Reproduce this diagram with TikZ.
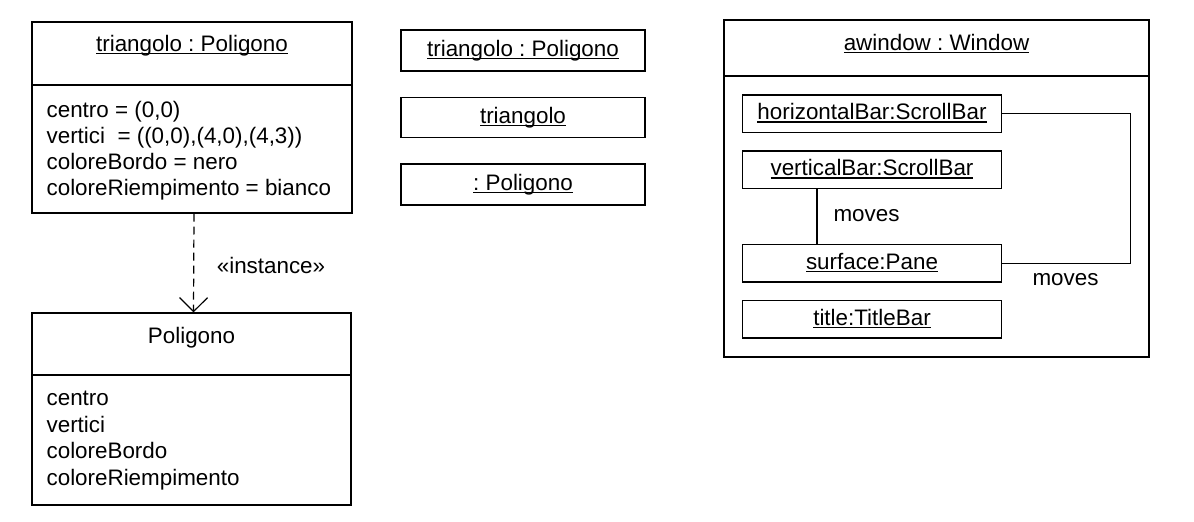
\documentclass[tikz,border=0pt]{standalone}
\usepackage{fontspec}
\setmainfont{Liberation Sans}
\usetikzlibrary{arrows.meta}
\frenchspacing
\newcommand\undl[1]{\setbox0=\hbox{#1}\rlap{\rule[-2.8pt]{\wd0}{1.1pt}}\box0}
\begin{document}
\frenchspacing
\begin{tikzpicture}[x=1pt,y=-1pt,line width=1.2pt,
  font=\fontsize{22.4}{27}\selectfont\frenchspacing,
  frame/.style={draw, inner sep=0pt, text height=15pt, text depth=3pt},
  lbl/.style={anchor=base, inner sep=0pt},
  attr/.style={anchor=base west, inner sep=0pt},
  inst/.style={dashed, dash pattern=on 8pt off 5pt, -{Straight Barb[length=14pt,width=28pt]}}]
\useasboundingbox (0,0) rectangle (1194,522);

% object triangolo : Poligono
\node[frame, minimum width=320pt, minimum height=191pt] (obj) at (192,117.5) {};
\draw (obj.west |- 0,85) -- (obj.east |- 0,85);
\node[lbl] (objname) at (192,51) {\undl{triangolo : Poligono}};
\node[attr] (oa1) at (46,117) {centro = (0,0)};
\node[attr] (oa2) at (46,143) {vertici~ = ((0,0),(4,0),(4,3))};
\node[attr] (oa3) at (46,169) {coloreBordo = nero};
\node[attr] (oa4) at (46,195) {coloreRiempimento = bianco};

% class Poligono
\node[frame, minimum width=319pt, minimum height=192pt] (cls) at (191.5,409) {};
\draw (cls.west |- 0,375) -- (cls.east |- 0,375);
\node[lbl] (clsname) at (191.5,343) {Poligono};
\node[attr] (ca1) at (46,405) {centro};
\node[attr] (ca2) at (46,432) {vertici};
\node[attr] (ca3) at (46,458) {coloreBordo};
\node[attr] (ca4) at (46,485) {coloreRiempimento};

\draw[inst] ([xshift=2pt]obj.south) -- ([xshift=2pt]cls.north);
\node[lbl] (instlbl) at (271,273) {«instance»};

% middle notations
\node[frame, minimum width=244pt, minimum height=41pt] (m1) at (523,50.5) {\undl{triangolo : Poligono}};
\node[frame, minimum width=244pt, minimum height=40pt] (m2) at (523,117.3) {\undl{triangolo}};
\node[frame, minimum width=244pt, minimum height=41pt] (m3) at (523,184.5) {\undl{: Poligono}};

% window composite object
\node[frame, minimum width=425pt, minimum height=337pt] (win) at (936.5,188.5) {};
\draw (win.west |- 0,76) -- (win.east |- 0,76);
\node[lbl] (winname) at (936.5,50) {\undl{awindow : Window}};
\node[frame, minimum width=259pt, minimum height=37.5pt] (hb) at (872,113.75) {\undl{horizontalBar:ScrollBar}};
\node[frame, minimum width=259pt, minimum height=37.5pt] (vb) at (872,169.75) {\undl{verticalBar:ScrollBar}};
\node[frame, minimum width=259pt, minimum height=37.5pt] (sf) at (872,263.25) {\undl{surface:Pane}};
\node[frame, minimum width=259pt, minimum height=37.5pt] (tt) at (872,319.25) {\undl{title:TitleBar}};

\draw ([xshift=-55pt]vb.south) -- ([xshift=-55pt]sf.north);
\node[lbl] (mv1) at (866.5,221) {moves};
\coordinate (c1) at (1130.7,113.75);
\draw (hb.east) -- (c1) |- (sf.east);
\node[lbl] (mv2) at (1065.5,285) {moves};
\end{tikzpicture}
\end{document}
